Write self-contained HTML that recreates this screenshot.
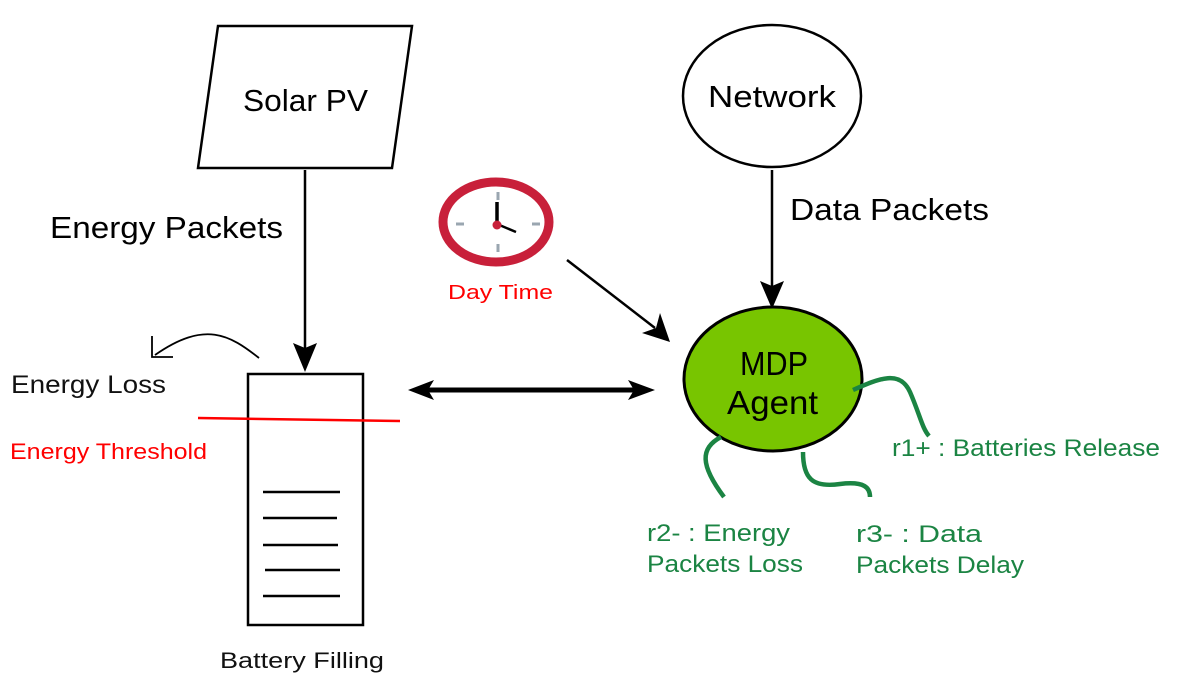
<!DOCTYPE html>
<html><head><style>
html,body{margin:0;padding:0;background:#fff;}
svg{display:block;font-family:"Liberation Sans","DejaVu Sans",sans-serif;}
</style></head><body>
<svg width="1188" height="684" viewBox="0 0 1188 684" xmlns="http://www.w3.org/2000/svg">
<!-- Solar PV -->
<polygon points="218,26 412,26 392,168 198,168" fill="#fff" stroke="#000" stroke-width="2.5"/>
<text x="243" y="111" font-size="31" textLength="125" lengthAdjust="spacingAndGlyphs">Solar PV</text>
<!-- Network -->
<ellipse cx="772" cy="96" rx="89" ry="71" fill="#fff" stroke="#000" stroke-width="2.5"/>
<text x="708" y="107" font-size="31" textLength="128" lengthAdjust="spacingAndGlyphs">Network</text>
<!-- arrows -->
<line x1="305" y1="170" x2="305" y2="350" stroke="#000" stroke-width="2.5"/>
<path d="M293,343 L305,348 L317,343 L305,372 Z" fill="#000"/>
<text x="50" y="238" font-size="31" textLength="233" lengthAdjust="spacingAndGlyphs">Energy Packets</text>
<line x1="772" y1="170" x2="772" y2="288" stroke="#000" stroke-width="2.5"/>
<path d="M760,281 L772,286 L784,281 L772,309 Z" fill="#000"/>
<text x="790" y="220" font-size="31" textLength="199" lengthAdjust="spacingAndGlyphs">Data Packets</text>
<!-- clock -->
<ellipse cx="496" cy="222" rx="53" ry="40" fill="#fff" stroke="#c8203a" stroke-width="9"/>
<g stroke="#9aa6b0" stroke-width="3">
<line x1="498" y1="192" x2="498" y2="200"/><line x1="498" y1="244" x2="498" y2="252"/>
<line x1="456" y1="224" x2="464" y2="224"/><line x1="532" y1="224" x2="540" y2="224"/>
</g>
<line x1="497" y1="224" x2="497" y2="202" stroke="#000" stroke-width="3.5"/>
<line x1="497" y1="224" x2="516" y2="232" stroke="#000" stroke-width="2.5"/>
<circle cx="497" cy="225" r="4.5" fill="#c8203a"/>
<text x="448" y="299" font-size="20" fill="#ff0000" textLength="105" lengthAdjust="spacingAndGlyphs">Day Time</text>
<line x1="567" y1="260" x2="655" y2="328" stroke="#000" stroke-width="2.5"/>
<path d="M642,333 L670,342 L660,313 L656,328 Z" fill="#000"/>
<!-- double arrow -->
<line x1="425" y1="390" x2="640" y2="390" stroke="#000" stroke-width="5"/>
<path d="M408,390 L434,380 L428,390 L434,400 Z" fill="#000"/>
<path d="M655,390 L628,380 L634,390 L628,400 Z" fill="#000"/>
<!-- MDP -->
<ellipse cx="773" cy="379" rx="89" ry="72" fill="#78c500" stroke="#000" stroke-width="3"/>
<text x="740" y="375" font-size="33" textLength="68" lengthAdjust="spacingAndGlyphs">MDP</text>
<text x="727" y="414" font-size="33" textLength="91" lengthAdjust="spacingAndGlyphs">Agent</text>
<!-- green tails -->
<g stroke="#1b8443" stroke-width="4.5" fill="none">
<path d="M853,390 C880,378 900,370 910,392 C920,415 922,428 929,436"/>
<path d="M721,437 C700,448 700,465 724,497"/>
<path d="M803,452 C803,478 812,488 840,484 C865,481 870,488 870,497"/>
</g>
<g fill="#1b8443" font-size="24">
<text x="892" y="456" textLength="268" lengthAdjust="spacingAndGlyphs">r1+ : Batteries Release</text>
<text x="647" y="541" textLength="143" lengthAdjust="spacingAndGlyphs">r2- : Energy</text>
<text x="647" y="572" textLength="156" lengthAdjust="spacingAndGlyphs">Packets Loss</text>
<text x="856" y="542" textLength="126" lengthAdjust="spacingAndGlyphs">r3- : Data</text>
<text x="856" y="573" textLength="168" lengthAdjust="spacingAndGlyphs">Packets Delay</text>
</g>
<!-- battery -->
<rect x="248" y="374" width="115" height="251" fill="#fff" stroke="#000" stroke-width="2.5"/>
<g stroke="#000" stroke-width="2.5">
<line x1="263" y1="492" x2="340" y2="492"/>
<line x1="263" y1="518" x2="337" y2="518"/>
<line x1="263" y1="545" x2="338" y2="545"/>
<line x1="265" y1="570" x2="340" y2="570"/>
<line x1="263" y1="596" x2="340" y2="596"/>
</g>
<line x1="198" y1="418" x2="400" y2="421" stroke="#ff0000" stroke-width="2.5"/>
<text x="11" y="393" font-size="25" fill="#111" textLength="155" lengthAdjust="spacingAndGlyphs">Energy Loss</text>
<text x="10" y="459" font-size="22" fill="#ff0000" textLength="197" lengthAdjust="spacingAndGlyphs">Energy Threshold</text>
<path d="M259,358 C230,335 205,320 155,355" stroke="#000" stroke-width="1.8" fill="none"/>
<path d="M152,336 L152,357 L173,357" stroke="#000" stroke-width="1.8" fill="none"/>
<text x="220" y="668" font-size="22" fill="#111" textLength="164" lengthAdjust="spacingAndGlyphs">Battery Filling</text>
</svg>
</body></html>
